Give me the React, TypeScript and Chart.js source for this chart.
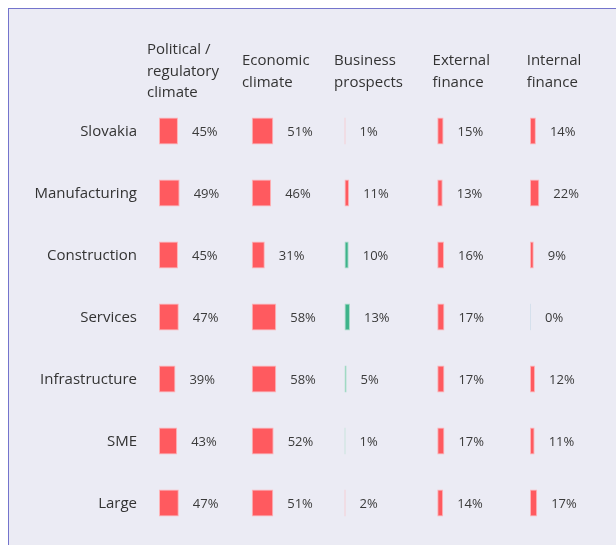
import React, { useEffect, useRef } from "react";
import { Chart, registerables } from "chart.js";

Chart.register(...registerables);

const categories = ["Slovakia", "Manufacturing", "Construction", "Services", "Infrastructure", "SME", "Large"];
const headers = [
  ["Political /", "regulatory", "climate"],
  ["Economic", "climate"],
  ["Business", "prospects"],
  ["External", "finance"],
  ["Internal", "finance"],
];
// signed values: negative = red, positive = green
const political = [-45, -49, -45, -47, -39, -43, -47];
const economic = [-51, -46, -31, -58, -58, -52, -51];
const business = [-1, -11, 10, 13, 5, 1, -2];
const external = [-15, -13, -16, -17, -17, -17, -14];
const internal = [-14, -22, -9, 0, -12, -11, -17];

const columns = [political, economic, business, external, internal];
const COL = 220; // column spacing in value units
const FONT = "'Open Sans', 'Noto Sans', sans-serif";

const fillFor = (v: number) => (v < 0 ? "#ff5a5f" : v > 0 ? "#3db38a" : "#c9d7e6");
const borderFor = (v: number) => (v < 0 ? "#ffb3b7" : v > 0 ? "#a6dcc6" : "#d5e0ec");

export default function App() {
  const ref = useRef<HTMLCanvasElement | null>(null);

  useEffect(() => {
    if (!ref.current) return;
    const labelPlugin = {
      id: "cellLabels",
      afterDatasetsDraw(chart: any) {
        const ctx = chart.ctx;
        ctx.save();
        ctx.textBaseline = "middle";
        // value labels
        ctx.font = `13px ${FONT}`;
        ctx.fillStyle = "#3a3a3a";
        ctx.textAlign = "left";
        chart.data.datasets.forEach((ds: any, di: number) => {
          const meta = chart.getDatasetMeta(di);
          meta.data.forEach((el: any, i: number) => {
            const v = Math.abs(columns[di][i]);
            ctx.fillText(`${v}%`, el.x + 14, el.y + 1);
          });
        });
        // category labels
        const ys = chart.scales.y;
        ctx.font = `15px ${FONT}`;
        ctx.fillStyle = "#333333";
        ctx.textAlign = "right";
        categories.forEach((c, i) => {
          ctx.fillText(c, chart.chartArea.left - 22, ys.getPixelForValue(i) + 1);
        });
        // headers
        const xs = chart.scales.x;
        ctx.textAlign = "left";
        headers.forEach((lines, c) => {
          const cx = xs.getPixelForValue(c * COL) + 24;
          const w = Math.max(...lines.map((l) => ctx.measureText(l).width));
          const lh = 21.5;
          const cy = 62.5;
          const top = cy - ((lines.length - 1) * lh) / 2;
          lines.forEach((l, k) => {
            ctx.fillText(l, Math.max(cx - w / 2, 136), top + k * lh);
          });
        });
        ctx.restore();
      },
    };

    const chart = new Chart(ref.current, {
      type: "bar",
      data: {
        labels: categories,
        datasets: columns.map((col, c) => ({
          data: col.map((v) => [c * COL, c * COL + Math.abs(v)]),
          backgroundColor: col.map(fillFor),
          borderColor: col.map(borderFor),
          borderWidth: 1,
          borderSkipped: false,
          minBarLength: 1,
          grouped: false,
          categoryPercentage: 1,
          barPercentage: 27 / 62,
        })) as any,
      },
      options: {
        indexAxis: "y",
        animation: false,
        responsive: false,
        layout: { padding: { top: 91, bottom: 11, left: 150, right: 0 } },
        plugins: {
          legend: { display: false },
          tooltip: { enabled: false },
        },
        scales: {
          x: { display: false, min: 0, max: 1084 },
          y: { display: false },
        },
      },
      plugins: [labelPlugin],
    });
    return () => chart.destroy();
  }, []);

  return (
    <div
      style={{
        position: "fixed",
        left: 8,
        top: 8,
        width: 608,
        height: 537,
        borderTop: "1px solid #7474cc",
        borderLeft: "1px solid #7474cc",
        background: "#ebebf4",
        overflow: "hidden",
      }}
    >
      <canvas ref={ref} width={607} height={536} style={{ display: "block", width: 607, height: 536 }} />
    </div>
  );
}
